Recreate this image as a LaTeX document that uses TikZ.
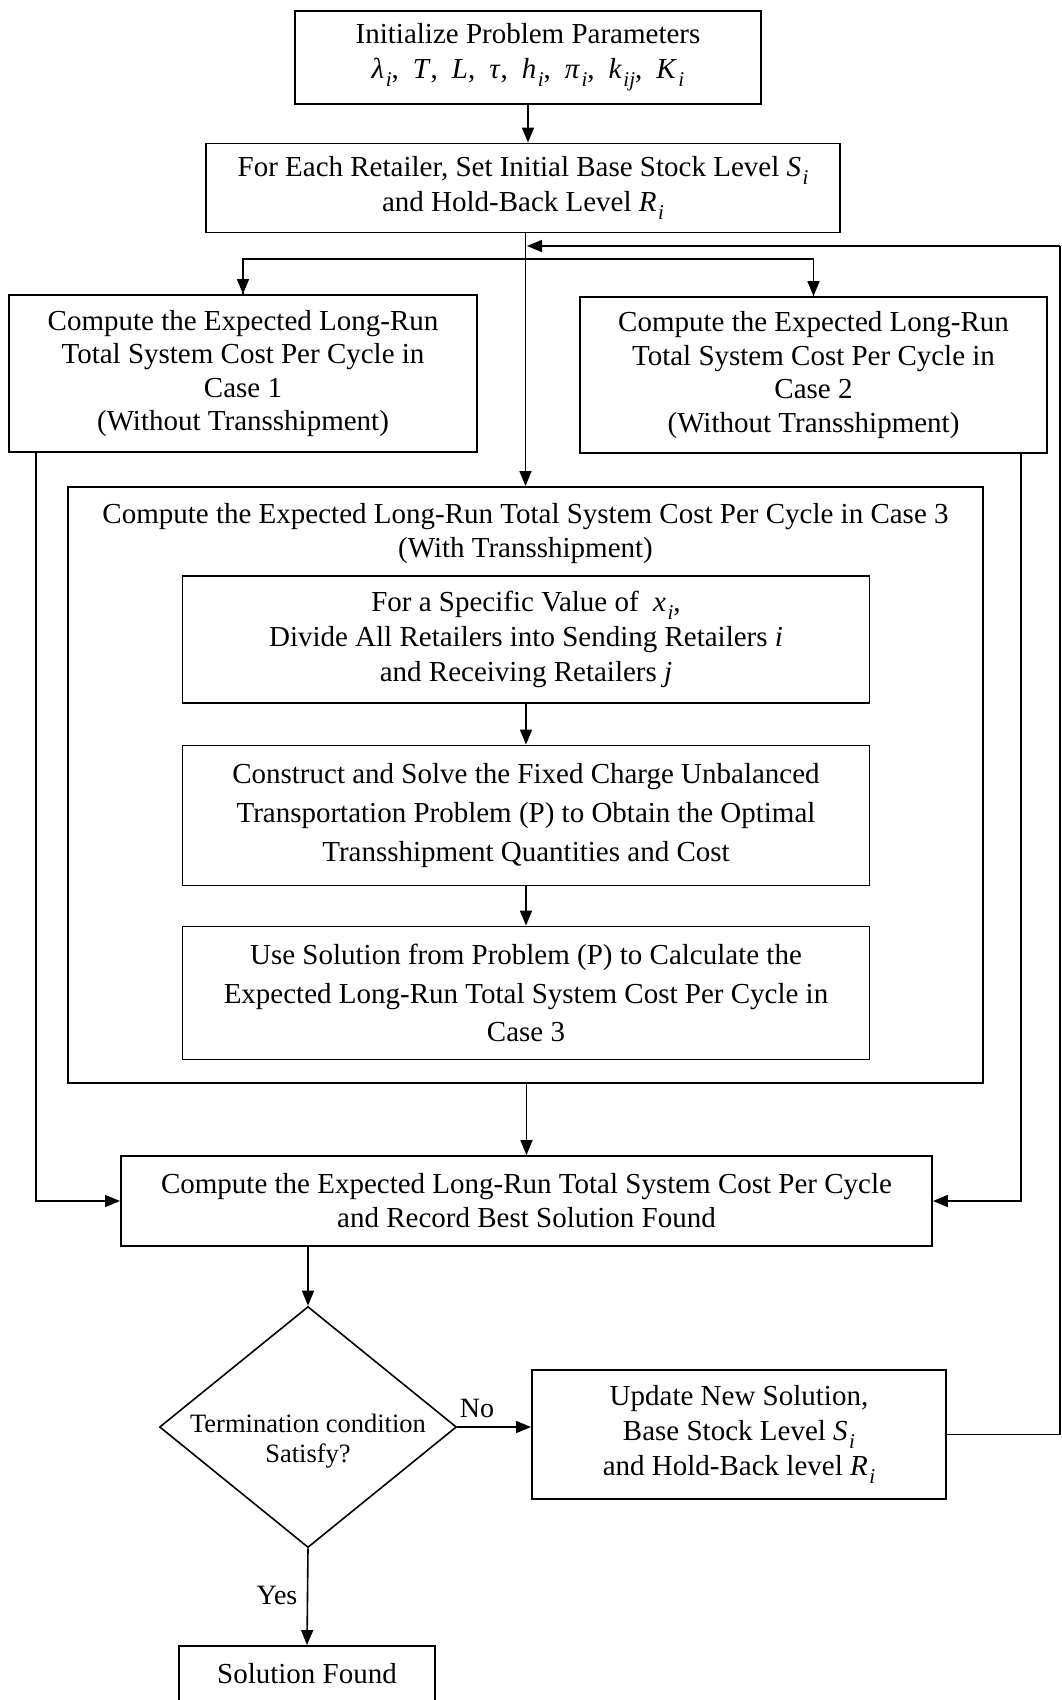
\documentclass[tikz,border=0pt]{standalone}
\usepackage{fontspec}
\setmainfont{Liberation Serif}
\usetikzlibrary{shapes.geometric,arrows.meta}
\newcommand\mvar[1]{\textit{#1}}
\newcommand\msub[2]{\textit{#1}\kern1.5pt\raisebox{-0.28em}{\fontsize{21}{21}\selectfont\textit{#2}}}
\newcommand\psep{,\hspace{14pt}}
\begin{document}
\begin{tikzpicture}[x=1pt,y=-1pt,
  box/.style={draw, line width=1.9pt, inner sep=0pt, align=center, font=\fontsize{29}{35}\selectfont},
  decbox/.style={draw, shape=diamond, line width=1.6pt, inner sep=0pt, minimum width=297pt, minimum height=241pt},
  arr/.style={line width=1.6pt, -{Triangle[length=15pt,width=12pt]}},
  ln/.style={line width=1.6pt},
  lbl/.style={inner sep=0pt, align=center, font=\fontsize{28}{34}\selectfont}]
\useasboundingbox (0,0) rectangle (1062,1700);

% nodes
\node[box, minimum width=466pt, minimum height=93pt] (init) at (528,57.5)
  {Initialize Problem Parameters\\ \msub{λ}{i}\psep\mvar{T}\psep\mvar{L}\psep\mvar{τ}\psep\msub{h}{i}\psep\msub{π}{i}\psep\msub{k}{ij}\psep\msub{K}{i}};
\node[box, minimum width=634pt, minimum height=89pt] (retail) at (523,188)
  {For Each Retailer, Set Initial Base Stock Level \msub{S}{i}\\ and Hold-Back Level \msub{R}{i}};
\node[box, minimum width=468pt, minimum height=157pt, font=\fontsize{29}{33.6}\selectfont] (case1) at (243,373.5)
  {Compute the Expected Long-Run\\ Total System Cost Per Cycle in\\ Case 1\\ (Without Transshipment)};
\node[box, minimum width=467pt, minimum height=156pt, font=\fontsize{29}{33.6}\selectfont] (case2) at (813.5,375)
  {Compute the Expected Long-Run\\ Total System Cost Per Cycle in\\ Case 2\\ (Without Transshipment)};
\node[box, minimum width=915pt, minimum height=596pt] (case3) at (525.5,785) {};
\node[lbl, font=\fontsize{29}{34}\selectfont] (case3t) at (525.5,534)
  {Compute the Expected Long-Run Total System Cost Per Cycle in Case 3\\ (With Transshipment)};
\node[box, minimum width=687pt, minimum height=127pt] (stepA) at (526,639.5)
  {For a Specific Value of~ \msub{x}{i},\\ Divide All Retailers into Sending Retailers \mvar{i}\\ and Receiving Retailers \mvar{j}};
\node[box, minimum width=687pt, minimum height=140pt, font=\fontsize{29}{39}\selectfont] (stepB) at (526,815.5)
  {Construct and Solve the Fixed Charge Unbalanced\\ Transportation Problem (P) to Obtain the Optimal\\ Transshipment Quantities and Cost};
\node[box, minimum width=687pt, minimum height=133pt, font=\fontsize{29}{38.5}\selectfont] (stepC) at (526,993)
  {Use Solution from Problem (P) to Calculate the\\ Expected Long-Run Total System Cost Per Cycle in\\ Case 3};
\node[box, minimum width=811pt, minimum height=90pt, font=\fontsize{29}{34}\selectfont] (final) at (526.5,1201)
  {Compute the Expected Long-Run Total System Cost Per Cycle\\ and Record Best Solution Found};
\node[decbox] (dec) at (308,1427) {};
\node[lbl, font=\fontsize{26.5}{30}\selectfont] (dect) at (308,1441) {Termination condition\\ Satisfy?};
\node[box, minimum width=414pt, minimum height=129pt] (upd) at (739,1434.5)
  {Update New Solution,\\ Base Stock Level \msub{S}{i}\\ and Hold-Back level \msub{R}{i}};
\node[box, minimum width=256pt, minimum height=56pt] (sol) at (307,1674) {Solution Found};
\node[lbl] (no) at (477,1408) {No};
\node[lbl] (yes) at (277,1595) {Yes};

% helper coordinates
\coordinate (br) at (525.5,259);
\coordinate (rt) at (1060,246);
\coordinate (fb) at (527,246);

% connectors
\draw[arr] (init.south) -- (init.south |- retail.north);
\draw[arr] (retail.south -| case3.north) -- (case3.north);
\draw[ln] (br) -| (case1.north);
\draw[arr] (case1.north |- br) -- (case1.north);
\draw[ln] (br) -| (case2.north);
\draw[arr] (case2.north |- br) -- (case2.north);
\draw[arr] (stepA.south) -- (stepB.north);
\draw[arr] (stepB.south) -- (stepC.north);
\draw[arr] (case3.south -| final.north) -- (final.north);
\draw[arr] ([xshift=28pt]case1.south west) |- (final.west);
\draw[arr] ([xshift=-27pt]case2.south east) |- (final.east);
\draw[arr] (final.south -| dec.north) -- (dec.north);
\draw[arr] (dec.east) -- (dec.east -| upd.west);
\draw[arr] (dec.south) -- (sol.north);
\draw[ln] (upd.east) -| (rt);
\draw[arr] (rt) -- (fb);
\end{tikzpicture}
\end{document}
